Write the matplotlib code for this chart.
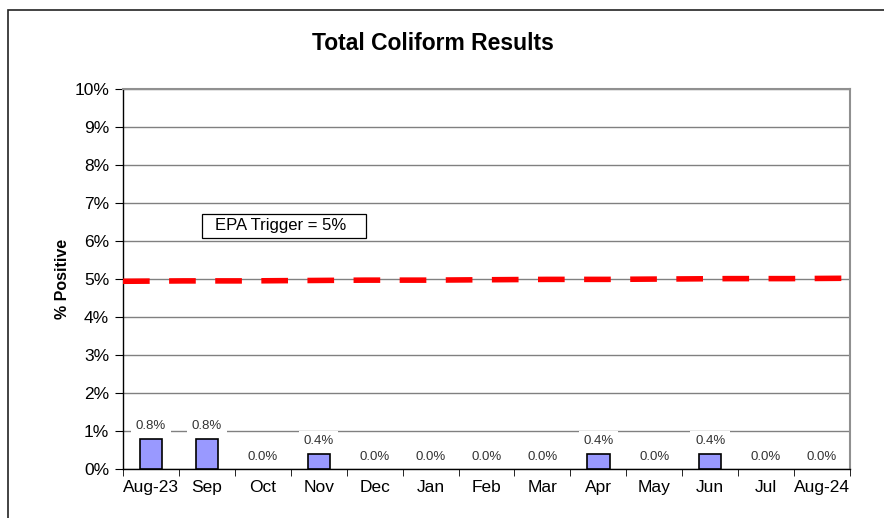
import matplotlib.pyplot as plt
from matplotlib.patches import Rectangle
import numpy as np

plt.rcParams['font.family'] = ['Liberation Sans', 'DejaVu Sans']

months = ['Aug-23', 'Sep', 'Oct', 'Nov', 'Dec', 'Jan', 'Feb', 'Mar',
          'Apr', 'May', 'Jun', 'Jul', 'Aug-24']
pct_positive = [0.8, 0.8, 0.0, 0.4, 0.0, 0.0, 0.0, 0.0, 0.4, 0.0, 0.4, 0.0, 0.0]
trigger = [4.94, 4.95, 4.95, 4.96, 4.97, 4.97, 4.98, 4.99, 4.99, 5.00, 5.01, 5.01, 5.02]

W, H = 884, 518
fig = plt.figure(figsize=(W / 100, H / 100), dpi=100)
fig.patch.set_facecolor('white')

# outer chart frame (runs off right and bottom edges)
fig.patches.append(Rectangle((8 / W, -0.1), 1.2, (H - 10) / H + 0.1,
                             transform=fig.transFigure, fill=False,
                             edgecolor='#222222', lw=1.2))

ax = fig.add_axes([123 / W, (H - 469) / H, (850 - 123) / W, (469 - 89) / H])
x = np.arange(len(months))

ax.set_ylim(0, 10)
ax.set_xlim(-0.5, len(months) - 0.5)
ax.set_yticks(np.arange(0, 11, 1))
ax.set_yticklabels([f'{v}%' for v in range(11)], fontsize=12.5)
ax.yaxis.grid(True, color='#808080', lw=1)
ax.set_axisbelow(True)

edge_w = [1.2 if v > 0 else 0 for v in pct_positive]
ax.bar(x, pct_positive, width=0.4, color='#9999FF', edgecolor='black',
       linewidth=edge_w, zorder=3)

for xi, v in zip(x, pct_positive):
    ax.text(xi, v + 0.17, f'{v:.1f}%', ha='center', va='bottom', fontsize=9.5,
            color='#333333', zorder=4,
            bbox=dict(facecolor='white', edgecolor='none',
                      boxstyle='square,pad=0.35'))

ax.set_xticks(x)
ax.set_xticklabels(months, fontsize=12.5)
ax.set_xticks(np.arange(-0.5, len(months), 1), minor=True)
ax.tick_params(axis='x', which='major', length=0, pad=8)
ax.tick_params(axis='x', which='minor', length=5, direction='out', color='black')
ax.tick_params(axis='y', length=6, direction='out', color='black', pad=4)

for s in ['top', 'right']:
    ax.spines[s].set_color('#909090')
    ax.spines[s].set_linewidth(1.5)
for s in ['left', 'bottom']:
    ax.spines[s].set_color('black')
    ax.spines[s].set_linewidth(1)

ax.set_ylabel('% Positive', fontsize=11.5, fontweight='bold', labelpad=3)

# trigger line on a secondary x scale spanning the full plot width
ax2 = ax.twiny()
ax2.set_xlim(0, len(trigger) - 1)
ax2.set_ylim(0, 10)
ax2.plot(np.arange(len(trigger)), trigger, color='red', lw=4,
         dashes=(4.8, 3.5), zorder=5)
ax2.axis('off')

# EPA trigger label box
ax.add_patch(Rectangle((0.1087, 0.608), 0.2256, 0.063, transform=ax.transAxes,
                       facecolor='white', edgecolor='black', lw=0.9, zorder=6))
ax.text(0.1265, 0.6395, 'EPA Trigger = 5%', transform=ax.transAxes, fontsize=12,
        ha='left', va='center', zorder=7)

fig.text(433 / W, 1 - 44 / H, 'Total Coliform Results', ha='center', va='center',
         fontsize=16.5, fontweight='bold')

fig.savefig('out.png', dpi=100)
